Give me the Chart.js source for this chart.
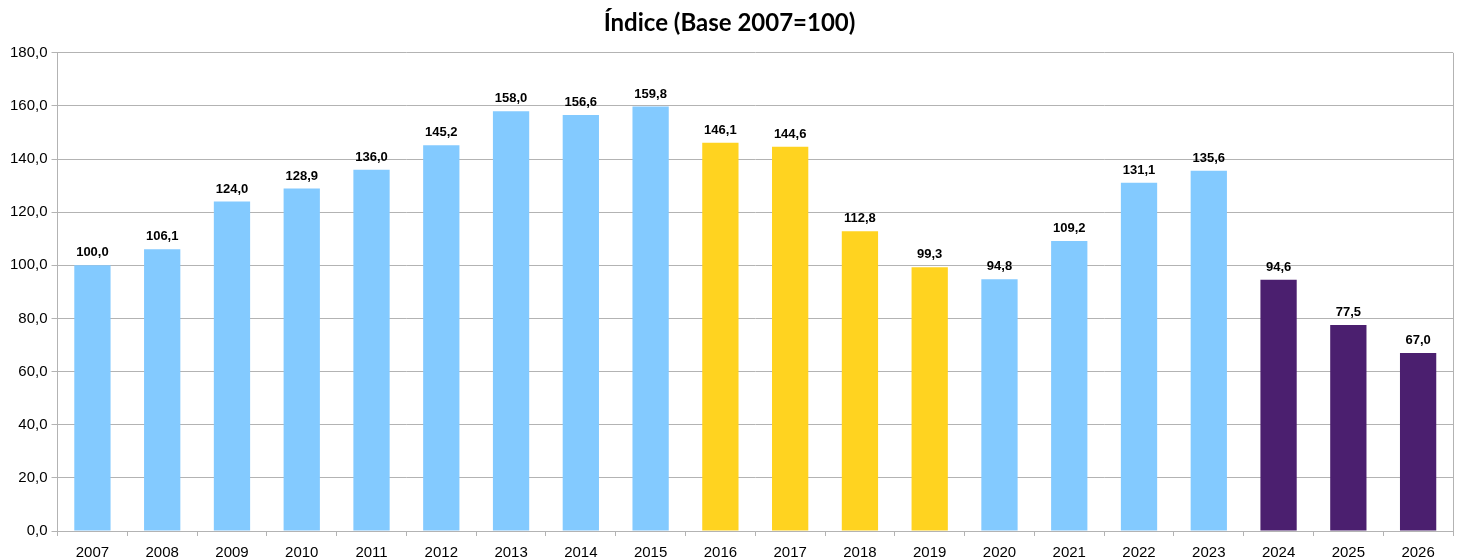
<!DOCTYPE html>
<html>
<head>
<meta charset="utf-8">
<script src="https://cdn.jsdelivr.net/npm/chart.js@4/dist/chart.umd.min.js"></script>
<style>
html,body{margin:0;padding:0;background:#fff;}
#wrap{width:1460px;height:559px;}
</style>
</head>
<body>
<div id="wrap"><canvas id="c" width="1460" height="559"></canvas></div>
<script>
const categories = ['2007','2008','2009','2010','2011','2012','2013','2014','2015','2016','2017','2018','2019','2020','2021','2022','2023','2024','2025','2026'];
const values = [100.0,106.1,124.0,128.9,136.0,145.2,158.0,156.6,159.8,146.1,144.6,112.8,99.3,94.8,109.2,131.1,135.6,94.6,77.5,67.0];
const groups = ['a','a','a','a','a','a','a','a','a','b','b','b','b','a','a','a','a','c','c','c'];
const groupColors = {a:'#83CAFF', b:'#FFD320', c:'#4B1F6F'};
const titleText = 'Índice (Base 2007=100)';

const fmt = v => v.toFixed(1).replace('.', ',');

const labelPlugin = {
  id: 'valueLabels',
  afterDatasetsDraw(chart) {
    const ctx = chart.ctx;
    const meta = chart.getDatasetMeta(0);
    ctx.save();
    ctx.font = 'bold 13px "Liberation Sans", Arial, sans-serif';
    ctx.fillStyle = '#000';
    ctx.textAlign = 'center';
    ctx.textBaseline = 'bottom';
    meta.data.forEach((bar, i) => {
      ctx.fillText(fmt(values[i]), bar.x, bar.y - 6);
    });
    ctx.restore();
  }
};
const borderPlugin = {
  id: 'rightBorder',
  beforeDatasetsDraw(chart) {
    const a = chart.chartArea, ctx = chart.ctx;
    ctx.save();
    ctx.strokeStyle = '#b3b3b3';
    ctx.lineWidth = 1;
    ctx.beginPath();
    ctx.moveTo(Math.round(a.right) + 0.5, a.top);
    ctx.lineTo(Math.round(a.right) + 0.5, a.bottom);
    ctx.stroke();
    ctx.restore();
  }
};

new Chart(document.getElementById('c'), {
  type: 'bar',
  data: {
    labels: categories,
    datasets: [{
      data: values,
      backgroundColor: groups.map(g => groupColors[g]),
      barPercentage: 0.52,
      categoryPercentage: 1.0
    }]
  },
  options: {
    responsive: false,
    animation: false,
    layout: { padding: { left: 6, right: 7, top: 0, bottom: 0 } },
    plugins: {
      legend: { display: false },
      tooltip: { enabled: false },
      title: {
        display: true,
        text: titleText,
        color: '#000',
        font: { family: 'Lato, "Open Sans", sans-serif', size: 24, weight: 'bold', lineHeight: 1.2 },
        padding: { top: 9, bottom: 15 }
      }
    },
    scales: {
      x: {
        afterFit(scale) { scale.height = 28; },
        grid: { display: true, drawOnChartArea: false, color: '#b3b3b3', tickLength: 5, offset: true },
        border: { color: '#b3b3b3' },
        ticks: { color: '#000', font: { family: '"Liberation Sans", Arial, sans-serif', size: 15, lineHeight: 1.13 }, padding: 8, maxRotation: 0 }
      },
      y: {
        min: 0, max: 180,
        grid: { color: '#b3b3b3', tickLength: 6 },
        border: { color: '#b3b3b3' },
        ticks: { stepSize: 20, color: '#000', font: { family: '"Liberation Sans", Arial, sans-serif', size: 15 }, padding: 4, callback: v => fmt(v) }
      }
    }
  },
  plugins: [labelPlugin, borderPlugin]
});
</script>
</body>
</html>
